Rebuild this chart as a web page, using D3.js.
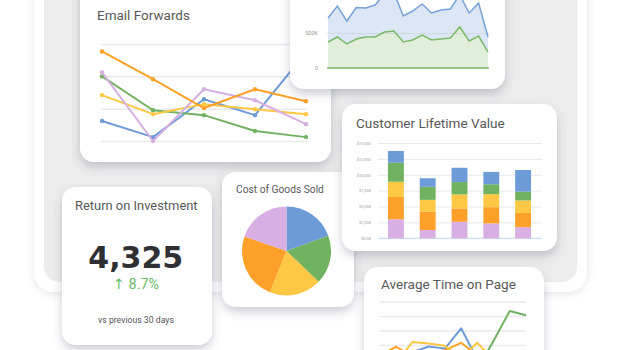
<!DOCTYPE html>
<html><head><meta charset="utf-8">
<script src="https://cdn.jsdelivr.net/npm/d3@7"></script>
<style>html,body{margin:0;padding:0;background:#fff;overflow:hidden}svg{display:block}</style>
</head><body>
<svg id="c" width="620" height="350"></svg>
<script>
// ---------- DATA ----------
const emailCategories = ["1","2","3","4","5"];
const emailBlue   = [6.2, 1.2, 12.9, 8.0, 27.4];
const emailGreen  = [20.0, 9.5, 8.0, 3.1, 1.2];
const emailYellow = [14.2, 8.3, 11.4, 9.8, 8.3];
const emailPurple = [21.2, 0.0, 16.0, 12.6, 5.2];
const emailOrange = [27.7, 19.1, 10.2, 16.0, 12.3];
const emailTicks  = [0, 10, 20, 30];

const areaCategories = ["1","2","3","4","5","6","7","8","9","10","11","12","13","14","15","16","17","18"];
const areaBlue  = [714, 886, 671, 864, 857, 900, 1060, 1075, 743, 814, 914, 786, 829, 843, 1045, 786, 929, 443];
const areaGreen = [371, 443, 343, 414, 443, 443, 514, 529, 371, 400, 471, 400, 414, 429, 586, 386, 457, 229];
const areaTicks = [0, 500, 1000];
const areaTickLabels = ["0", "500K", "1M"];

const clvCategories = ["A","B","C","D","E"];
const clvPurple = [3000, 1300, 2600, 2350, 1750];
const clvOrange = [3500, 2900, 2100, 2550, 2250];
const clvYellow = [2400, 1850, 2200, 2050, 1950];
const clvGreen  = [3000, 2050, 1950, 1550, 1400];
const clvBlue   = [1850, 1350, 2250, 1950, 3400];
const clvTicks  = [0, 2500, 5000, 7500, 10000, 12500, 15000];
const clvTickLabels = ["$0.00", "$2,500", "$5,000", "$7,500", "$10,000", "$12,500", "$15,000"];

const cogsLabels = ["Blue", "Green", "Yellow", "Orange", "Purple"];
const cogsValues = [19.4, 17.8, 18.9, 24.2, 19.7];

const roiTitle = "Return on Investment";
const roiValue = "4,325";
const roiChange = "↑ 8.7%";
const roiNote = "vs previous 30 days";

const atpCategories = ["1","2","3","4","5","6","7","8","9","10"];
const atpBlue   = [1.2, 1.3, 1.5, 1.9, 1.75, 3.15, 1.0, 0.8, 0.9, 0.7];
const atpOrange = [1.3, 1.88, 1.2, 1.4, 1.65, 2.15, 1.3, 1.0, 0.8, 0.9];
const atpYellow = [1.0, 0.8, 2.2, 2.1, 1.95, 1.1, 2.15, 1.0, 0.9, 0.8];
const atpGreen  = [0.5, 0.7, 0.4, 0.6, 0.5, 0.4, 0.3, 2.3, 4.35, 4.05];
const atpTicks  = [1, 2, 3, 4, 5];

// ---------- STYLE ----------
const C = {blue:"#6c9bd7", green:"#71b260", yellow:"#ffc844", orange:"#ffa02a", purple:"#d7afe2"};
const FONT = "Roboto, 'DejaVu Sans', sans-serif";
const svg = d3.select("#c");
const defs = svg.append("defs");
const sh = defs.append("filter").attr("id","sh").attr("x","-30%").attr("y","-30%").attr("width","160%").attr("height","170%");
sh.append("feDropShadow").attr("dx",0).attr("dy",5).attr("stdDeviation",5).attr("flood-color","#4d5470").attr("flood-opacity",0.28);
const sh2 = defs.append("filter").attr("id","sh2").attr("x","-10%").attr("y","-10%").attr("width","120%").attr("height","130%");
sh2.append("feDropShadow").attr("dx",0).attr("dy",2).attr("stdDeviation",4).attr("flood-color","#000").attr("flood-opacity",0.10);

function fit(t, w){ const l=t.node().getComputedTextLength(); const fs=parseFloat(t.attr("font-size")); t.attr("font-size", fs*w/l); return t; }
function title(g, txt, x, y, w, size, anchor){
  const t = g.append("text").attr("x",x).attr("y",y).attr("font-family",FONT).attr("font-size",size)
    .attr("fill","#585858").attr("text-anchor",anchor||"start").text(txt);
  return fit(t, w);
}
function card(x,y,w,h){
  const g = svg.append("g");
  g.append("rect").attr("x",x).attr("y",y).attr("width",w).attr("height",h).attr("rx",14).attr("fill","#fff").attr("filter","url(#sh)");
  return g;
}

// ---------- FRAME ----------
svg.append("rect").attr("x",34).attr("y",-40).attr("width",553).attr("height",332).attr("rx",20).attr("fill","#fff").attr("filter","url(#sh2)");
svg.append("rect").attr("x",44).attr("y",-40).attr("width",533).attr("height",322).attr("rx",15).attr("fill","#ececec");

// ---------- EMAIL FORWARDS ----------
{
  const g = card(80,-30,251,192);
  title(g, "Email Forwards", 97, 19.5, 93, 14);
  const x = d3.scalePoint().domain(emailCategories).range([102,306]);
  const y = d3.scaleLinear().domain([0,30]).range([141,44]);
  g.append("g").attr("transform","translate(101,0)")
    .call(d3.axisLeft(y).tickValues(emailTicks).tickSize(-206).tickFormat(""))
    .call(a=>a.select(".domain").remove())
    .call(a=>a.selectAll("line").attr("stroke","#e9e9ee").attr("stroke-width",1.5));
  const series = [[emailBlue,C.blue],[emailGreen,C.green],[emailYellow,C.yellow],[emailPurple,C.purple],[emailOrange,C.orange]];
  const line = d3.line().x((d,i)=>x(emailCategories[i])).y(d=>y(d));
  series.forEach(([vals,col])=>{
    g.append("path").attr("d",line(vals)).attr("fill","none").attr("stroke",col).attr("stroke-width",2).attr("stroke-linejoin","round");
    g.selectAll(null).data(vals).join("circle").attr("cx",(d,i)=>x(emailCategories[i])).attr("cy",d=>y(d)).attr("r",2.2).attr("fill",col);
  });
}

// ---------- AREA CHART ----------
{
  const g = card(290,-30,215,119);
  const x = d3.scalePoint().domain(areaCategories).range([328,488]);
  const y = d3.scaleLinear().domain([0,1000]).range([68,-2]);
  const area = d3.area().x((d,i)=>x(areaCategories[i])).y0(y(0)).y1(d=>y(d));
  const line = d3.line().x((d,i)=>x(areaCategories[i])).y(d=>y(d));
  g.append("path").attr("d",area(areaBlue)).attr("fill","#dde6f5");
  g.append("path").attr("d",area(areaGreen)).attr("fill","#e1eedc");
  g.append("g").attr("transform","translate(327,0)")
    .call(d3.axisLeft(y).tickValues(areaTicks).tickSize(-162).tickPadding(9).tickFormat((d,i)=>areaTickLabels[i]))
    .call(a=>a.select(".domain").remove())
    .call(a=>a.selectAll("line").attr("stroke","#cfd5df").attr("stroke-opacity",0.8))
    .call(a=>a.selectAll("text").attr("fill","#9a9a9a").attr("font-size",5.5).attr("font-family",FONT));
  g.append("path").attr("d",line(areaBlue)).attr("fill","none").attr("stroke","#77a1da").attr("stroke-width",1.5);
  g.append("path").attr("d",line(areaGreen)).attr("fill","none").attr("stroke","#7cba69").attr("stroke-width",1.5);
  g.append("line").attr("x1",327).attr("x2",489).attr("y1",y(0)).attr("y2",y(0)).attr("stroke","#7cba69").attr("stroke-width",1.5);
}

// ---------- COST OF GOODS SOLD ----------
{
  const g = card(222,172,132,135);
  title(g, "Cost of Goods Sold", 236, 192.7, 88, 11);
  const pie = d3.pie().sort(null).value(d=>d);
  const arc = d3.arc().innerRadius(0).outerRadius(44.5);
  const cols = [C.blue,C.green,C.yellow,C.orange,C.purple];
  g.append("g").attr("transform","translate(286.5,251)")
    .selectAll("path").data(pie(cogsValues)).join("path").attr("d",arc).attr("fill",(d,i)=>cols[i]);
}

// ---------- CUSTOMER LIFETIME VALUE ----------
{
  const g = card(342,104,215,147);
  title(g, "Customer Lifetime Value", 356, 127.5, 149, 14);
  const x = d3.scaleBand().domain(clvCategories).range([380,539]).paddingInner(0.5).paddingOuter(0.25);
  const y = d3.scaleLinear().domain([0,15000]).range([238.3,143]);
  g.append("g").attr("transform","translate(378,0)")
    .call(d3.axisLeft(y).tickValues(clvTicks).tickSize(-164).tickPadding(7).tickFormat((d,i)=>clvTickLabels[i]))
    .call(a=>a.select(".domain").remove())
    .call(a=>a.selectAll("line").attr("stroke","#e8e9ee"))
    .call(a=>a.selectAll("text").attr("fill","#9a9a9a").attr("font-size",4).attr("font-family",FONT));
  const keys = ["purple","orange","yellow","green","blue"];
  const table = clvCategories.map((c,i)=>({cat:c, purple:clvPurple[i], orange:clvOrange[i], yellow:clvYellow[i], green:clvGreen[i], blue:clvBlue[i]}));
  const stack = d3.stack().keys(keys)(table);
  g.append("line").attr("x1",378).attr("x2",542).attr("y1",y(0)).attr("y2",y(0)).attr("stroke","#c9d8ee").attr("stroke-width",1);
  stack.forEach(layer=>{
    g.selectAll(null).data(layer).join("rect")
      .attr("x",d=>x(d.data.cat)).attr("width",x.bandwidth())
      .attr("y",d=>y(d[1])).attr("height",d=>y(d[0])-y(d[1]))
      .attr("fill",C[layer.key]);
  });
}

// ---------- RETURN ON INVESTMENT ----------
{
  const g = card(62,187,150,158);
  title(g, roiTitle, 136.3, 210, 122.7, 13, "middle");
  fit(g.append("text").attr("x",135.8).attr("y",268).attr("text-anchor","middle").attr("font-family","'DejaVu Sans', sans-serif")
    .attr("font-weight","bold").attr("font-size",30).attr("fill","#2f3033").text(roiValue), 95);
  fit(g.append("text").attr("x",136).attr("y",288.5).attr("text-anchor","middle").attr("font-family",FONT)
    .attr("font-size",13).attr("fill","#6cbd6a").text(roiChange), 46);
  fit(g.append("text").attr("x",136).attr("y",322.7).attr("text-anchor","middle").attr("font-family",FONT)
    .attr("font-size",9.5).attr("fill","#555").text(roiNote), 76);
}

// ---------- AVERAGE TIME ON PAGE ----------
{
  const g = card(364,267,180,110);
  title(g, "Average Time on Page", 381, 288.5, 135, 14);
  const x = d3.scalePoint().domain(atpCategories).range([380,526]);
  const y = d3.scaleLinear().domain([0,5]).range([374,301.5]);
  g.append("g").attr("transform","translate(380,0)")
    .call(d3.axisLeft(y).tickValues(atpTicks).tickSize(-146).tickFormat(""))
    .call(a=>a.select(".domain").remove())
    .call(a=>a.selectAll("line").attr("stroke","#e9e9ee").attr("stroke-width",1.3));
  const line = d3.line().x((d,i)=>x(atpCategories[i])).y(d=>y(d));
  [[atpGreen,C.green],[atpBlue,C.blue],[atpOrange,C.orange],[atpYellow,C.yellow]].forEach(([v,col])=>{
    g.append("path").attr("d",line(v)).attr("fill","none").attr("stroke",col).attr("stroke-width",2).attr("stroke-linejoin","round");
  });
}
</script>
</body></html>
